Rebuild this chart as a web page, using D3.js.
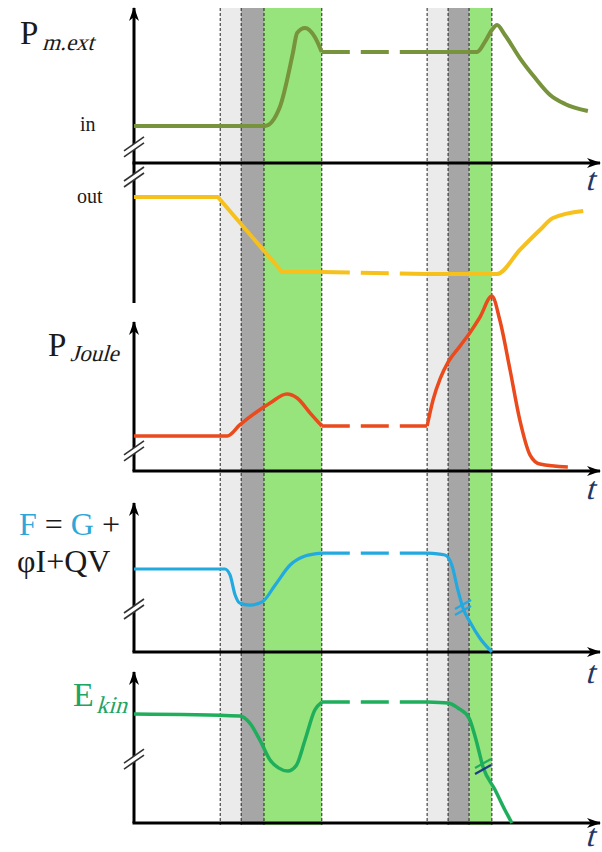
<!DOCTYPE html>
<html>
<head>
<meta charset="utf-8">
<script src="https://cdn.jsdelivr.net/npm/d3@7"></script>
<style>
  body { margin: 0; background: #fff; }
  svg { display: block; }
</style>
</head>
<body>
<svg id="chart" width="602" height="852"></svg>
<script>
/* globals d3 */

// time axis runs 0..100, each panel value axis runs 0..100 (arrow tip = 100)
const bandStarts = [18.5, 23.0, 27.9, 62.9, 67.4, 71.9];
const bandEnds = [23.0, 27.9, 40.3, 67.4, 71.9, 76.8];
const bandKinds = ["pre", "switch", "active", "pre", "switch", "active"];

// dashed gap between the two events
const gapStart = 40.3;
const gapEnd = 62.9;

// P m.ext (in)
const extPre = [[0, 23.9], [28.1, 23.9], [31.3, 36.1], [34.1, 71.0], [35.0, 83.9], [36.7, 87.1], [38.8, 81.3], [40.3, 71.6]];
const extPost = [[62.9, 71.6], [73.6, 71.6], [75.3, 78.1], [76.8, 85.8], [77.9, 89.0], [79.6, 82.6], [82.8, 67.7], [86.1, 54.8], [89.3, 43.9], [92.5, 38.1], [97.4, 33.5]];

// P m.ext (out)
const outPre = [[0, 75.7], [18.0, 75.7], [31.8, 22.1], [40.3, 22.1]];
const outPost = [[62.9, 20.7], [77.9, 20.7], [82.8, 37.9], [87.1, 52.1], [89.9, 60.7], [96.4, 65.7]];

// P Joule
const joulePre = [[0, 23.5], [20.0, 23.5], [22.7, 30.9], [26.0, 38.9], [29.2, 45.6], [32.8, 51.7], [35.0, 49.0], [37.8, 38.9], [40.3, 30.2]];
const joulePost = [[62.9, 30.2], [64.2, 48], [65.7, 62], [67.4, 73], [70.0, 84], [71.9, 92], [74.2, 103], [76.8, 117.4], [78.5, 101.3], [80.7, 67.8], [82.8, 34.2], [85.0, 10.7], [87.1, 4.7], [93.1, 2.7]];

// F = G + phi I + QV
const freePre = [[0, 55.7], [19.5, 55.7], [20.6, 51.7], [21.7, 38.3], [22.7, 32.9], [24.9, 31.5], [27.5, 33.6], [30.3, 45.0], [33.5, 58.4], [36.7, 64.4], [40.3, 66.4]];
const freePost = [[62.9, 66.4], [66.7, 65.1], [68.2, 58.4], [69.5, 41.6], [70.6, 29.5], [72.1, 20.1], [74.2, 9.4], [76.8, 0]];

// E kin
const kinPre = [[0, 72.2], [22.7, 70.9], [24.9, 66], [27.0, 55], [29.2, 41.7], [31.0, 36.5], [33.0, 34.4], [34.8, 38], [36.7, 55], [38.8, 74.8], [40.3, 80.1]];
const kinPost = [[62.9, 80.1], [67.4, 79.5], [69.5, 76.2], [71.9, 69.5], [73.4, 55.0], [74.9, 37.1], [77.5, 21.9], [79.6, 8.6], [81.1, 0]];

// axis breaks (value on each panel)
const axisBreaks = [["ext", 9.7], ["out", 89.3], ["joule", 12.8], ["free", 28.2], ["kin", 41.7]];
// breaks drawn on the curves
const curveBreaks = [["free", 70.6, 29.5], ["kin", 74.9, 37.1]];

const svg = d3.select("#chart");

const x = d3.scaleLinear().domain([0, 100]).range([134, 600]);

const panels = {
  ext: { top: 8, bottom: 163 },
  out: { top: 163, bottom: 303 },
  joule: { top: 322, bottom: 471 },
  free: { top: 503, bottom: 652 },
  kin: { top: 672, bottom: 823 },
};
for (let k in panels) {
  panels[k].y = d3.scaleLinear().domain([0, 100]).range([panels[k].bottom, panels[k].top]);
}

var bandColor = { pre: "#ebebeb", switch: "#a6a6a6", active: "#97e37c" };

// arrow head
svg.append("defs").append("marker")
  .attr("id", "arrow")
  .attr("viewBox", "0 0 14 10")
  .attr("refX", 13)
  .attr("refY", 5)
  .attr("markerUnits", "userSpaceOnUse")
  .attr("markerWidth", 14)
  .attr("markerHeight", 10)
  .attr("orient", "auto")
  .append("path")
  .attr("d", "M0,0 L14,5 L0,10 L4,5 Z")
  .attr("fill", "#000");

// bands
svg.append("g").selectAll("rect")
  .data(bandStarts.map((s, i) => ({ s: s, e: bandEnds[i], kind: bandKinds[i] })))
  .enter()
  .append("rect")
  .attr("x", (d) => x(d.s))
  .attr("width", (d) => x(d.e) - x(d.s))
  .attr("y", 8)
  .attr("height", 817)
  .attr("fill", (d) => bandColor[d.kind]);

var edges = Array.from(new Set(bandStarts.concat(bandEnds)));
svg.append("g").selectAll("line")
  .data(edges)
  .enter()
  .append("line")
  .attr("x1", (d) => x(d)).attr("x2", (d) => x(d))
  .attr("y1", 8).attr("y2", 825)
  .attr("stroke", "#222")
  .attr("stroke-width", 1)
  .attr("stroke-dasharray", "3,2");

// axes
var axes = svg.append("g").attr("stroke", "#000").attr("stroke-width", 3);
// vertical axes
axes.append("line").attr("x1", x(0)).attr("x2", x(0))
  .attr("y1", panels.out.y(0)).attr("y2", panels.ext.y(100))
  .attr("marker-end", "url(#arrow)");
["joule", "free", "kin"].forEach(function (k) {
  axes.append("line").attr("x1", x(0)).attr("x2", x(0))
    .attr("y1", panels[k].y(0)).attr("y2", panels[k].y(100))
    .attr("marker-end", "url(#arrow)");
});
// horizontal axes
["ext", "joule", "free", "kin"].forEach(function (k) {
  axes.append("line").attr("x1", x(0) - 1.5).attr("x2", x(100))
    .attr("y1", panels[k].y(0)).attr("y2", panels[k].y(0))
    .attr("marker-end", "url(#arrow)");
});

// axis break marks
var brk = svg.append("g").selectAll("g")
  .data(axisBreaks)
  .enter()
  .append("g")
  .attr("transform", (d) => "translate(" + x(0) + "," + panels[d[0]].y(d[1]) + ")");
brk.append("path")
  .attr("d", "M-10,3 L10,-11 L10,-5 L-10,9 Z")
  .attr("fill", "#fff");
brk.append("line").attr("x1", -10).attr("y1", 3).attr("x2", 10).attr("y2", -11)
  .attr("stroke", "#333").attr("stroke-width", 1.6);
brk.append("line").attr("x1", -10).attr("y1", 9).attr("x2", 10).attr("y2", -5)
  .attr("stroke", "#333").attr("stroke-width", 1.6);

// curves
var series = [
  { panel: "ext", pre: extPre, post: extPost, color: "#77933c", w: 4, preCurve: d3.curveMonotoneX },
  { panel: "out", pre: outPre, post: outPost, color: "#f6c11c", w: 4, preCurve: d3.curveLinear },
  { panel: "joule", pre: joulePre, post: joulePost, color: "#ea4a1c", w: 3.5, preCurve: d3.curveMonotoneX },
  { panel: "free", pre: freePre, post: freePost, color: "#22a9e0", w: 3.2, preCurve: d3.curveMonotoneX },
  { panel: "kin", pre: kinPre, post: kinPost, color: "#1eae5c", w: 3.5, preCurve: d3.curveMonotoneX },
];

var curves = svg.append("g").attr("fill", "none").attr("stroke-linecap", "butt").attr("stroke-linejoin", "round");
series.forEach(function (s) {
  var y = panels[s.panel].y;
  var line = d3.line()
    .x((d) => x(d[0]))
    .y((d) => y(d[1]));
  curves.append("path").attr("d", line.curve(s.preCurve)(s.pre))
    .attr("stroke", s.color).attr("stroke-width", s.w);
  curves.append("path").attr("d", line.curve(d3.curveMonotoneX)(s.post))
    .attr("stroke", s.color).attr("stroke-width", s.w);
  var a = s.pre[s.pre.length - 1], b = s.post[0];
  curves.append("path")
    .attr("d", line.curve(d3.curveLinear)([[gapStart, a[1]], [gapEnd, b[1]]]))
    .attr("stroke", s.color).attr("stroke-width", s.w)
    .attr("stroke-dasharray", "28,11");
});

// curve break marks
var cb = svg.append("g").selectAll("g")
  .data(curveBreaks)
  .enter()
  .append("g")
  .attr("transform", (d) => "translate(" + x(d[1]) + "," + panels[d[0]].y(d[2]) + ")");
cb.append("line").attr("x1", -8).attr("y1", 1).attr("x2", 8).attr("y2", -8)
  .attr("stroke", (d) => (d[0] == "free" ? "#22a9e0" : "#1eae5c")).attr("stroke-width", 2.2);
cb.append("line").attr("x1", -8).attr("y1", 7).attr("x2", 8).attr("y2", -2)
  .attr("stroke", (d) => (d[0] == "free" ? "#22a9e0" : "#1f3c88")).attr("stroke-width", 2.2);

// labels
var serif = "'Liberation Serif', 'Times New Roman', serif";
var lab = svg.append("g").attr("font-family", serif).attr("fill", "#1a1a1a");

// slanted serif text (no serif italic face available)
function slanted(px, py, size, str, color) {
  return lab.append("text")
    .attr("transform", "translate(" + px + "," + py + ") skewX(-16)")
    .attr("font-size", size)
    .attr("fill", color || "#1a1a1a")
    .text(str);
}

lab.append("text").attr("x", 20).attr("y", 44).attr("font-size", 33).text("P");
slanted(42, 50, 23, "m.ext");

lab.append("text").attr("x", 80).attr("y", 131).attr("font-size", 20).text("in");
lab.append("text").attr("x", 77).attr("y", 203).attr("font-size", 20).text("out");

lab.append("text").attr("x", 48).attr("y", 356).attr("font-size", 33).text("P");
slanted(70, 361, 23, "Joule");

var t3 = lab.append("text").attr("x", 19).attr("y", 535).attr("font-size", 32);
t3.append("tspan").attr("fill", "#2ea6d8").text("F");
t3.append("tspan").text(" = ");
t3.append("tspan").attr("fill", "#2ea6d8").text("G");
t3.append("tspan").text(" +");
lab.append("text").attr("x", 17).attr("y", 572).attr("font-size", 32).text("φI+QV");

lab.append("text").attr("x", 73).attr("y", 706).attr("font-size", 34).attr("fill", "#1fa463").text("E");
slanted(96, 713, 24, "kin", "#1fa463");

// time labels
[["ext", 27], ["joule", 28], ["free", 31], ["kin", 23]].forEach(function (d) {
  slanted(585, panels[d[0]].y(0) + d[1], 32, "t", "#1f3864");
});
</script>
</body>
</html>
